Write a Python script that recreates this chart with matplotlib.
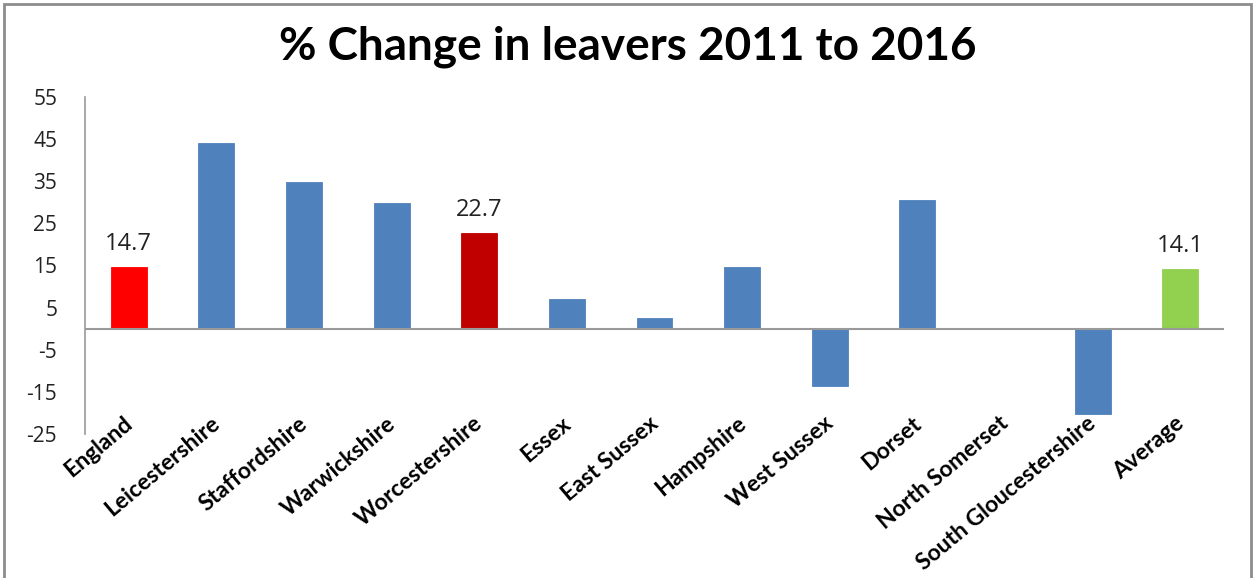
import matplotlib
matplotlib.use("Agg")
import matplotlib.pyplot as plt
from matplotlib.patches import Rectangle
from matplotlib.transforms import offset_copy

categories = ["England", "Leicestershire", "Staffordshire", "Warwickshire",
              "Worcestershire", "Essex", "East Sussex", "Hampshire",
              "West Sussex", "Dorset", "North Somerset",
              "South Gloucestershire", "Average"]
values = [14.7, 44.0, 34.9, 29.8, 22.7, 7.0, 2.6, 14.7, -13.6, 30.6, 0.0, -20.2, 14.1]
bar_colors = ["#FF0000", "#4F81BD", "#4F81BD", "#4F81BD", "#C00000",
              "#4F81BD", "#4F81BD", "#4F81BD", "#4F81BD", "#4F81BD",
              "#4F81BD", "#4F81BD", "#92D050"]
labelled = {0: "14.7", 4: "22.7", 12: "14.1"}
yticks = [-25, -15, -5, 5, 15, 25, 35, 45, 55]
title = "% Change in leavers 2011 to 2016"

W, H = 1255, 578
fig = plt.figure(figsize=(W / 100, H / 100), dpi=100)
fig.patch.set_facecolor("white")

# outer frame
fig.patches.append(Rectangle((4 / W, -0.02), (1251 - 4) / W, 1.02 - 4 / H,
                             transform=fig.transFigure, fill=False,
                             edgecolor="#8c8c8c", linewidth=2))

left, right = 85 / W, 1224 / W
bottom, top = 1 - 434 / H, 1 - 97 / H
ax = fig.add_axes([left, bottom, right - left, top - bottom])

x = list(range(len(categories)))
bars = ax.bar(x, values, width=0.41, color=bar_colors,
              edgecolor=[c for c in bar_colors], linewidth=0.6, zorder=3)

ax.set_xlim(-0.5, len(categories) - 0.5)
ax.set_ylim(-25, 55)
ax.set_yticks(yticks)
ax.set_yticklabels([str(t) for t in yticks], fontsize=15, color="#222222",
                   family="Open Sans")
ax.tick_params(axis="y", length=0, pad=20)

for s in ["top", "right", "bottom"]:
    ax.spines[s].set_visible(False)
ax.spines["left"].set_color("#999999")
ax.spines["left"].set_linewidth(1.2)
ax.axhline(0, color="#999999", linewidth=1.5, zorder=4)

ax.set_xticks(x)
ax.set_xticklabels([])
ax.tick_params(axis="x", length=0)
# category labels, rotated, right end anchored near the bottom of the plot
lab_tr = matplotlib.transforms.blended_transform_factory(ax.transData, ax.transAxes)
for i, name in enumerate(categories):
    t = offset_copy(lab_tr, fig=fig, x=-6, y=1, units="dots")
    ax.text(i, 0.06, name, transform=t, rotation=40, ha="right", va="top",
            rotation_mode="anchor", fontsize=16.5, fontweight="bold",
            family="Lato", color="black")

for i, txt in labelled.items():
    ax.annotate(txt, (i, values[i]), xytext=(0, 8), textcoords="offset points",
                ha="center", va="bottom", fontsize=17, family="Open Sans",
                color="#222222")

fig.text(628 / W, 1 - 47 / H, title, ha="center", va="center",
         fontsize=33, fontweight="bold", family="Lato", color="black")

fig.savefig("out.png", dpi=100)
